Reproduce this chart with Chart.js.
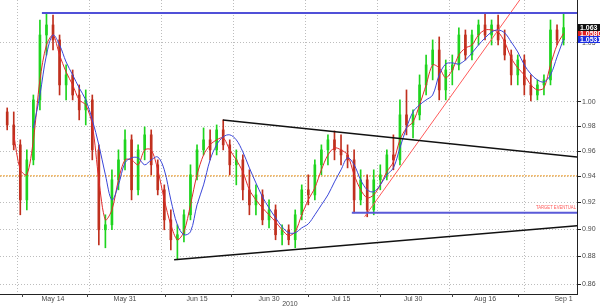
<!DOCTYPE html>
<html>
<head>
<meta charset="utf-8">
<script src="https://cdn.jsdelivr.net/npm/chart.js@4.4.0/dist/chart.umd.min.js"></script>
<style>
  html, body { margin: 0; padding: 0; background: #fff; }
  #wrap { width: 600px; height: 308px; }
</style>
</head>
<body>
<div id="wrap"><canvas id="chart" width="600" height="308"></canvas></div>
<script>
// Daily candles, day 0 = May 14 2010 (trading days)
const firstDay = -7;

const openPx = [
    0.9915, 0.9809, 0.9649, 0.9220, 0.9530, 1.0014, 1.0566, 1.0654, 1.0523, 1.0139,
    1.0223, 1.0055, 0.9932, 1.0014, 0.9609, 0.8995, 0.9032, 0.9374, 0.9530, 0.9689,
    0.9297, 0.9609, 0.9729, 0.9491, 0.9297, 0.9069, 0.8921, 0.8958, 0.9107, 0.9413,
    0.9609, 0.9689, 0.9609, 0.9769, 0.9649, 0.9491, 0.9530, 0.9297, 0.9182, 0.9258,
    0.9069, 0.9144, 0.8958, 0.8995, 0.8921, 0.9107, 0.9297, 0.9258, 0.9491, 0.9609,
    0.9689, 0.9609, 0.9569, 0.9530, 0.9220, 0.9374, 0.9144, 0.9374, 0.9413, 0.9569,
    0.9530, 0.9891, 0.9809, 0.9891, 1.0139, 1.0308, 1.0436, 1.0097, 1.0265, 1.0308,
    1.0566, 1.0393, 1.0566, 1.0654, 1.0566, 1.0654, 1.0523, 1.0393, 1.0223, 1.0350,
    1.0139, 1.0055, 1.0139, 1.0181, 1.0610, 1.0523
];
const highPx = [
    0.9948, 0.9915, 0.9689, 0.9609, 1.0055, 1.0698, 1.0760, 1.0742, 1.0566, 1.0308,
    1.0265, 1.0139, 1.0097, 1.0055, 0.9649, 0.9107, 0.9452, 0.9609, 0.9769, 0.9729,
    0.9649, 0.9793, 0.9769, 0.9530, 0.9335, 0.9144, 0.9032, 0.9144, 0.9491, 0.9649,
    0.9785, 0.9769, 0.9809, 0.9850, 0.9689, 0.9609, 0.9569, 0.9452, 0.9335, 0.9297,
    0.9220, 0.9182, 0.9032, 0.9032, 0.9144, 0.9335, 0.9413, 0.9530, 0.9649, 0.9729,
    0.9761, 0.9729, 0.9649, 0.9609, 0.9452, 0.9413, 0.9452, 0.9491, 0.9609, 0.9729,
    1.0014, 1.0097, 0.9932, 1.0223, 1.0393, 1.0523, 1.0549, 1.0350, 1.0393, 1.0628,
    1.0610, 1.0610, 1.0698, 1.0760, 1.0698, 1.0742, 1.0610, 1.0436, 1.0393, 1.0393,
    1.0223, 1.0181, 1.0223, 1.0698, 1.0654, 1.0751
];
const lowPx = [
    0.9769, 0.9609, 0.9107, 0.9144, 0.9491, 0.9932, 1.0393, 1.0436, 1.0055, 1.0014,
    1.0014, 0.9850, 0.9809, 0.9530, 0.8884, 0.8862, 0.8995, 0.9297, 0.9452, 0.9220,
    0.9258, 0.9530, 0.9413, 0.9258, 0.8995, 0.8847, 0.8775, 0.8906, 0.9069, 0.9374,
    0.9569, 0.9530, 0.9569, 0.9609, 0.9413, 0.9335, 0.9220, 0.9107, 0.9107, 0.9032,
    0.9009, 0.8921, 0.8884, 0.8884, 0.8862, 0.9069, 0.9182, 0.9220, 0.9413, 0.9491,
    0.9530, 0.9491, 0.9467, 0.9122, 0.9182, 0.9092, 0.9107, 0.9297, 0.9374, 0.9452,
    0.9491, 0.9729, 0.9705, 0.9850, 1.0055, 1.0181, 1.0014, 1.0014, 1.0139, 1.0265,
    1.0350, 1.0350, 1.0479, 1.0523, 1.0479, 1.0479, 1.0350, 1.0139, 1.0139, 1.0055,
    1.0006, 1.0014, 1.0055, 1.0139, 1.0479, 1.0479
];
const closePx = [
    0.9809, 0.9649, 0.9220, 0.9530, 1.0014, 1.0566, 1.0654, 1.0523, 1.0139, 1.0223,
    1.0055, 0.9932, 1.0014, 0.9609, 0.8995, 0.9032, 0.9374, 0.9530, 0.9689, 0.9297,
    0.9609, 0.9729, 0.9491, 0.9297, 0.9069, 0.8921, 0.8958, 0.9107, 0.9413, 0.9609,
    0.9689, 0.9609, 0.9769, 0.9649, 0.9491, 0.9530, 0.9297, 0.9182, 0.9258, 0.9069,
    0.9144, 0.8958, 0.8995, 0.8921, 0.9107, 0.9297, 0.9258, 0.9491, 0.9609, 0.9689,
    0.9609, 0.9569, 0.9530, 0.9220, 0.9374, 0.9144, 0.9374, 0.9413, 0.9569, 0.9530,
    0.9891, 0.9809, 0.9891, 1.0139, 1.0308, 1.0436, 1.0097, 1.0265, 1.0308, 1.0566,
    1.0393, 1.0566, 1.0654, 1.0566, 1.0654, 1.0523, 1.0393, 1.0223, 1.0350, 1.0139,
    1.0055, 1.0139, 1.0181, 1.0610, 1.0523, 1.0630
];

// moving averages (red = fast, blue = slow)
const fastAvg = [
    null,
    0.9729, 0.9452, 0.9413, 0.9689, 1.0181, 1.0479, 1.0566, 1.0393, 1.0248, 1.0139,
    1.0014, 0.9973, 0.9809, 0.9374, 0.9069, 0.9144, 0.9374, 0.9530, 0.9530, 0.9491,
    0.9609, 0.9609, 0.9452, 0.9220, 0.9032, 0.8921, 0.8980, 0.9182, 0.9413, 0.9569,
    0.9649, 0.9689, 0.9705, 0.9609, 0.9530, 0.9436, 0.9297, 0.9220, 0.9159, 0.9107,
    0.9054, 0.8995, 0.8951, 0.8980, 0.9107, 0.9220, 0.9312, 0.9452, 0.9569, 0.9625,
    0.9609, 0.9569, 0.9413, 0.9297, 0.9235, 0.9258, 0.9335, 0.9436, 0.9514, 0.9689,
    0.9785, 0.9834, 0.9973, 1.0139, 1.0308, 1.0282, 1.0198, 1.0265, 1.0393, 1.0453,
    1.0479, 1.0566, 1.0610, 1.0610, 1.0592, 1.0505, 1.0367, 1.0282, 1.0223, 1.0139,
    1.0097, 1.0114, 1.0308, 1.0479, 1.0580
];
const slowAvg = [
    null, null, null, null,
    0.9785, 1.0055, 1.0393, 1.0566, 1.0479, 1.0333, 1.0223, 1.0114, 1.0014, 0.9850,
    0.9649, 0.9413, 0.9220, 0.9335, 0.9507, 0.9546, 0.9546, 0.9491, 0.9530, 0.9553,
    0.9452, 0.9220, 0.9032, 0.8958, 0.8980, 0.9182, 0.9335, 0.9530, 0.9649, 0.9713,
    0.9729, 0.9689, 0.9593, 0.9467, 0.9350, 0.9243, 0.9159, 0.9084, 0.9017, 0.8973,
    0.8973, 0.9009, 0.9039, 0.9107, 0.9182, 0.9258, 0.9358, 0.9452, 0.9546, 0.9491,
    0.9374, 0.9297, 0.9282, 0.9335, 0.9413, 0.9467, 0.9625, 0.9785, 0.9915, 0.9973,
    1.0014, 1.0055, 1.0223, 1.0316, 1.0325, 1.0316, 1.0350, 1.0410, 1.0479, 1.0540,
    1.0592, 1.0610, 1.0584, 1.0505, 1.0419, 1.0308, 1.0231, 1.0181, 1.0164, 1.0223,
    1.0376, 1.0531
];

const tickDays = [0, 11, 22, 33, 44, 55, 66, 78];
const tickLabels = ['May 14', 'May 31', 'Jun 15', 'Jun 30', 'Jul 15', 'Jul 30', 'Aug 16', 'Sep 1'];
const minorTickDays = [-4.7, 5.2, 17.1, 27.2, 38.9, 49.9, 60.9, 71.0];
const priceTicks = [0.86, 0.88, 0.90, 0.92, 0.94, 0.96, 0.98, 1.00, 1.05];
const yearLabel = '2010';

// drawn studies: [day, price] end points
const topLine = [[-1.7, 1.0760], [80.1, 1.0760]];
const targetLine = [[45.65, 0.9122], [80.1, 0.9122]];
const upperTrend = [[25.95, 0.9850], [80.1, 0.9553]];
const lowerTrend = [[18.5, 0.8775], [80.1, 0.9025]];
const redTrend = [[47.6, 0.9092], [71.3, 1.0876]];
const level94 = [[-8.1, 0.9405], [80.1, 0.9405]];

const xMin = -8.1, xMax = 80.05;
const yMin = 0.853, yMax = 1.0876;

const upColor = '#1ed41e';
const downColor = '#c0301e';

const days = openPx.map((_, i) => firstDay + i);
const candleColors = openPx.map((o, i) => closePx[i] >= o ? upColor : downColor);
const segment = pts => pts.map(p => ({ x: p[0], y: p[1] }));
const series = arr => arr.map((v, i) => ({ x: days[i], y: v }));

const tickFont = { family: 'Liberation Sans', size: 7 };

const extras = {
    id: 'extras',
    afterDraw(chart) {
        const { ctx, chartArea, scales } = chart;
        const x = scales.x, y = scales.y;
        ctx.save();

        // time labels under the axis
        ctx.fillStyle = '#4a4a4a';
        ctx.font = '7px "Liberation Sans"';
        ctx.textAlign = 'center';
        ctx.textBaseline = 'middle';
        tickDays.forEach((d, i) => ctx.fillText(tickLabels[i], x.getPixelForValue(d), chartArea.bottom + 5));
        ctx.fillText(yearLabel, x.getPixelForValue(36.2), chartArea.bottom + 10);

        // minor ticks under the time axis
        ctx.strokeStyle = '#444';
        ctx.lineWidth = 1;
        minorTickDays.forEach(d => {
            const px = Math.round(x.getPixelForValue(d)) + 0.5;
            ctx.beginPath();
            ctx.moveTo(px, chartArea.bottom);
            ctx.lineTo(px, chartArea.bottom + 3);
            ctx.stroke();
        });

        // target caption
        ctx.fillStyle = '#ff5a5a';
        ctx.font = '6px "Liberation Sans"';
        ctx.textAlign = 'right';
        ctx.textBaseline = 'alphabetic';
        ctx.fillText('TARGET EVENTUAL', chartArea.right - 1, y.getPixelForValue(targetLine[0][1]) - 4, 40);

        // last value boxes on the price axis
        const last = closePx.length - 1;
        const boxes = [
            { v: fastAvg[last], text: fastAvg[last].toFixed(4), bg: '#e02020' },
            { v: closePx[last], text: closePx[last].toFixed(3), bg: '#111' },
            { v: slowAvg[last], text: slowAvg[last].toFixed(4), bg: '#1c2ee0' }
        ];
        const sorted = boxes.slice().sort((a, b) => b.v - a.v);
        let prev = -Infinity;
        sorted.forEach(b => {
            b.py = Math.max(y.getPixelForValue(b.v), prev + 6);
            prev = b.py;
        });
        ctx.font = 'bold 7px "Liberation Sans"';
        ctx.textAlign = 'left';
        ctx.textBaseline = 'middle';
        boxes.forEach(b => {
            ctx.fillStyle = b.bg;
            ctx.fillRect(chartArea.right + 1, Math.round(b.py - 3.5), 23, 7);
            ctx.fillStyle = '#fff';
            ctx.fillText(b.text, chartArea.right + 3, b.py + 0.5);
        });

        ctx.restore();
    }
};

new Chart(document.getElementById('chart'), {
    type: 'bar',
    data: {
        datasets: [
            { type: 'line', data: segment(topLine), borderColor: '#5050d8', borderWidth: 2, pointRadius: 0, order: 0 },
            { type: 'line', data: segment(targetLine), borderColor: '#5a5ad8', borderWidth: 2, pointRadius: 0, order: 0 },
            { type: 'line', data: segment(upperTrend), borderColor: '#111', borderWidth: 1.5, pointRadius: 0, order: 0 },
            { type: 'line', data: segment(lowerTrend), borderColor: '#111', borderWidth: 1.5, pointRadius: 0, order: 0 },
            { type: 'line', data: segment(redTrend), borderColor: '#ff5a5a', borderWidth: 1, pointRadius: 0, order: 0 },
            { type: 'line', data: series(slowAvg), borderColor: '#3a46d8', borderWidth: 1, pointRadius: 0, tension: 0.35, order: 1 },
            { type: 'line', data: series(fastAvg), borderColor: '#e02a2a', borderWidth: 1, pointRadius: 0, tension: 0.3, order: 1 },
            {
                data: days.map((d, i) => ({ x: d, y: [openPx[i], closePx[i]] })),
                backgroundColor: candleColors, barThickness: 2, minBarLength: 1,
                grouped: false, order: 2
            },
            {
                data: days.map((d, i) => ({ x: d, y: [lowPx[i], highPx[i]] })),
                backgroundColor: candleColors, barThickness: 1,
                grouped: false, order: 3
            },
            { type: 'line', data: segment(level94), borderColor: '#f0a030', borderWidth: 1, borderDash: [2, 1], pointRadius: 0, order: 4 }
        ]
    },
    options: {
        responsive: false,
        animation: false,
        layout: { padding: 0 },
        plugins: { legend: { display: false }, tooltip: { enabled: false } },
        scales: {
            x: {
                type: 'linear',
                min: xMin,
                max: xMax,
                offset: false,
                grid: { color: '#bdbdbd', drawTicks: false },
                border: { display: true, color: '#222', width: 1, dash: [1, 2] },
                ticks: { display: false },
                afterBuildTicks: s => { s.ticks = tickDays.map(v => ({ value: v })); },
                afterFit: s => { s.height = 14; s.paddingLeft = 0; s.paddingRight = 0; }
            },
            y: {
                type: 'logarithmic',
                position: 'right',
                min: yMin,
                max: yMax,
                bounds: 'data',
                grid: { color: '#bdbdbd', tickColor: '#222', tickLength: 4 },
                border: { display: true, color: '#222', width: 1, dash: [1, 2] },
                ticks: {
                    font: tickFont, color: '#4a4a4a', padding: 1,
                    callback: v => Number(v).toFixed(2)
                },
                afterBuildTicks: s => { s.ticks = priceTicks.map(v => ({ value: v })); },
                afterFit: s => { s.width = 23; s.paddingTop = 0; s.paddingBottom = 0; }
            }
        }
    },
    plugins: [extras]
});
</script>
</body>
</html>
